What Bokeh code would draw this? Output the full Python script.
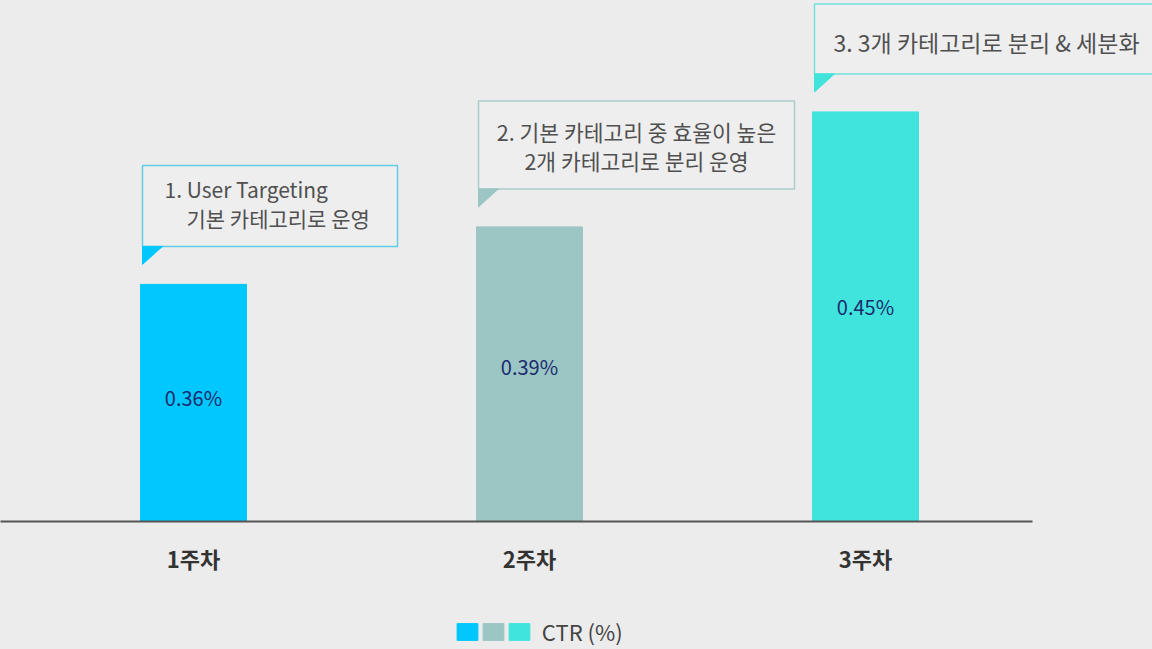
from bokeh.plotting import figure
from bokeh.layouts import column
from bokeh.models import Range1d, FixedTicker, Legend, LegendItem, ColumnDataSource
from bokeh.core.properties import value
from bokeh.embed import file_html
from bokeh.resources import INLINE

# ---- data ----
weeks = ["1주차", "2주차", "3주차"]
ctr = [0.36, 0.39, 0.45]
ctr_labels = ["0.36%", "0.39%", "0.45%"]
bar_colors = ["#00c8fe", "#9cc6c4", "#41e4dd"]
callout_borders = ["#62cdea", "#a9cdcb", "#72e2dc"]
callout_line1 = ["1. User Targeting", "2. 기본 카테고리 중 효율이 높은", "3. 3개 카테고리로 분리 & 세분화"]
callout_line2 = ["기본 카테고리로 운영", "2개 카테고리로 분리 운영", ""]
legend_label = "CTR (%)"

# ---- layout constants ----
W = 1152
H1, H2 = 600, 49
FRAME_H = 521
X_PX = 336.0          # px per x unit
Y_PX = 1916.7         # px per y unit
Y_BASE = 0.2363
x_pos = list(range(len(weeks)))
x_start = -193 / X_PX
x_end = x_start + W / X_PX
y_end = Y_BASE + FRAME_H / Y_PX

BG = "#ececec"
FONT = "Noto Sans CJK KR"

p = figure(width=W, height=H1, output_backend="svg", toolbar_location=None,
           x_range=Range1d(x_start, x_end), y_range=Range1d(Y_BASE, y_end),
           y_axis_location=None, min_border_left=0, min_border_right=0,
           min_border_top=0, min_border_bottom=H1 - FRAME_H)
p.background_fill_color = BG
p.border_fill_color = BG
p.outline_line_color = None
p.grid.visible = False

src = ColumnDataSource(dict(x=x_pos, top=ctr, color=bar_colors, label=ctr_labels,
                            ly=[Y_BASE + (v - Y_BASE) * 0.525 for v in ctr]))
bars = p.vbar(x="x", top="top", bottom=Y_BASE, width=106 / X_PX, color="color", source=src)
p.text(x="x", y="ly", text="label", source=src, text_align="center", text_baseline="middle",
       text_font=value(FONT), text_font_size="20px", text_color="#1b2b6d")

# ---- callouts ----
dx = 1 / X_PX
dy = 1 / Y_PX
box_w = [255, 316, 420]
box_h = [81, 88, 70]
qs = dict(left=[], right=[], top=[], bottom=[], line=[])
tails_x, tails_y = [], []
for i, v in enumerate(ctr):
    left = x_pos[i] - 51 * dx
    tip = v + 20 * dy
    bottom = tip + 18 * dy
    qs["left"].append(left)
    qs["right"].append(left + box_w[i] * dx)
    qs["bottom"].append(bottom)
    qs["top"].append(bottom + box_h[i] * dy)
    qs["line"].append(callout_borders[i])
    tails_x.append([left, left + 20 * dx, left])
    tails_y.append([bottom, bottom, tip])

p.quad(left="left", right="right", top="top", bottom="bottom", line_color="line",
       fill_color="#eeeeee", line_width=1.5, source=ColumnDataSource(qs))
p.patches(xs=tails_x, ys=tails_y, fill_color=bar_colors, line_color=bar_colors, line_width=1)

tx, ty, tt, ta, ts = [], [], [], [], []
for i in range(len(ctr)):
    left = qs["left"][i]
    bottom = qs["bottom"][i]
    if i == 0:
        tx += [left + 22 * dx, left + 44 * dx]
        ty += [bottom + 57 * dy, bottom + 28 * dy]
        tt += [callout_line1[i], callout_line2[i]]
        ta += ["left", "left"]
        ts += ["21px", "21px"]
    elif i == 1:
        cx = left + box_w[i] / 2 * dx
        tx += [cx, cx]
        ty += [bottom + 57 * dy, bottom + 28 * dy]
        tt += [callout_line1[i], callout_line2[i]]
        ta += ["center", "center"]
        ts += ["21.5px", "21.5px"]
    else:
        tx += [left + 19 * dx]
        ty += [bottom + 32 * dy]
        tt += [callout_line1[i]]
        ta += ["left"]
        ts += ["23px"]
p.text(x="x", y="y", text="t", text_align="a", text_font_size="s", text_baseline="middle",
       text_font=value(FONT), text_color="#505050",
       source=ColumnDataSource(dict(x=tx, y=ty, t=tt, a=ta, s=ts)))

# ---- x axis ----
ax = p.xaxis[0]
ax.ticker = FixedTicker(ticks=x_pos)
ax.major_label_overrides = {x: w for x, w in zip(x_pos, weeks)}
ax.bounds = (x_start, x_start + 1032 / X_PX)
ax.axis_line_color = "#555555"
ax.axis_line_width = 2
ax.major_tick_line_color = None
ax.minor_tick_line_color = None
ax.major_label_standoff = 14
ax.major_label_text_font = FONT
ax.major_label_text_font_size = "22px"
ax.major_label_text_font_style = "bold"
ax.major_label_text_color = "#333333"

# ---- legend strip ----
q = figure(width=W, height=H2, output_backend="svg", toolbar_location=None,
           x_range=Range1d(x_start, x_end), y_range=Range1d(10, 11),
           x_axis_location=None, y_axis_location=None,
           min_border_left=0, min_border_right=0, min_border_top=0, min_border_bottom=0)
q.background_fill_color = BG
q.border_fill_color = BG
q.outline_line_color = None
q.grid.visible = False
key = q.vbar(x="x", top="top", bottom=Y_BASE, width=0.3, color="color", source=src)
items = [LegendItem(label="", renderers=[key], index=0),
         LegendItem(label="", renderers=[key], index=1),
         LegendItem(label="  " + legend_label, renderers=[key], index=2)]
legend = Legend(items=items, orientation="horizontal", location=(454, 2),
                glyph_width=26, glyph_height=21, label_standoff=0, spacing=0,
                label_width=0, padding=0, margin=0,
                border_line_color=None, background_fill_alpha=0,
                label_text_font=FONT, label_text_font_size="22px", label_text_color="#444444",
                label_height=21)
q.add_layout(legend)

layout = column(p, q, spacing=0, styles={"background-color": BG})
open("out.html", "w").write(file_html(layout, INLINE))
